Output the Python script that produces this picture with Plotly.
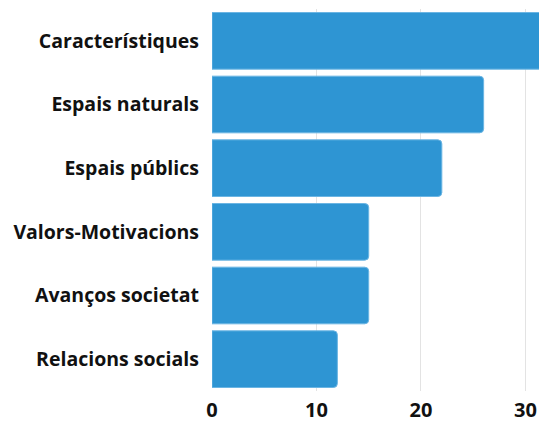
import plotly.graph_objects as go

categories = ["Característiques", "Espais naturals", "Espais públics",
              "Valors-Motivacions", "Avanços societat", "Relacions socials"]
values = [33, 26, 22, 15, 15, 12]

fig = go.Figure(go.Bar(
    x=values, y=categories, orientation="h",
    marker=dict(color="#2E95D3", line=dict(color="#6BB5E3", width=1), cornerradius=4),
    width=0.89,
))
fig.update_layout(
    width=539, height=423,
    margin=dict(l=212, r=0, t=9, b=30),
    paper_bgcolor="white", plot_bgcolor="white",
    font=dict(family="Open Sans", size=17, color="#111"),
    showlegend=False,
    xaxis=dict(range=[0, 31.3], tickvals=[0, 10, 20, 30], showgrid=True,
               gridcolor="#e3e3e3", zeroline=False, ticklabelstandoff=5,
               tickfont=dict(family="Open Sans", size=20, weight="bold", color="#111")),
    yaxis=dict(autorange="reversed", showgrid=False, ticklabelstandoff=12,
               tickfont=dict(family="Open Sans", size=19.5, weight="bold", color="#111")),
)
fig.write_html("out.html", config={"displayModeBar": False},
               post_script="document.body.style.margin='0';document.body.style.overflow='hidden';")
